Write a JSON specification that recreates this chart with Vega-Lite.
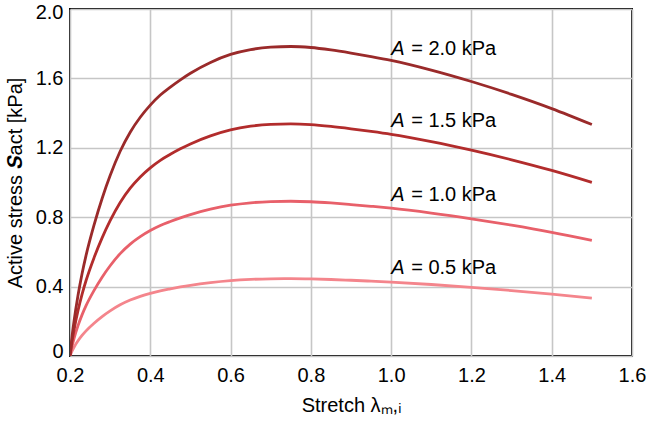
{
  "$schema": "https://vega.github.io/schema/vega-lite/v6.json",
  "width": 562,
  "height": 347,
  "autosize": {"type": "none"},
  "padding": {"left": 70, "top": 9, "right": 14, "bottom": 65},
  "background": "white",
  "config": {
    "view": {"stroke": "black", "strokeWidth": 2},
    "font": "Liberation Sans",
    "axis": {
      "gridColor": "#c6c6c6",
      "gridWidth": 1.6,
      "domain": false,
      "ticks": false,
      "labelFont": "Liberation Sans",
      "labelFontSize": 20,
      "labelColor": "black",
      "titleFont": "Liberation Sans",
      "titleFontSize": 20,
      "titleFontWeight": "normal",
      "titleColor": "black"
    }
  },
  "datasets": {
    "curves": [
      {"A":"0.5","l":0.2,"S":0},{"A":"0.5","l":0.205,"S":0.0275},{"A":"0.5","l":0.21,"S":0.05},{"A":"0.5","l":0.22,"S":0.0875},{"A":"0.5","l":0.23,"S":0.1185},{"A":"0.5","l":0.24,"S":0.145},{"A":"0.5","l":0.26,"S":0.189},{"A":"0.5","l":0.28,"S":0.227},{"A":"0.5","l":0.3,"S":0.26},{"A":"0.5","l":0.325,"S":0.295},{"A":"0.5","l":0.35,"S":0.3225},{"A":"0.5","l":0.375,"S":0.344},{"A":"0.5","l":0.4,"S":0.3615},{"A":"0.5","l":0.425,"S":0.376},{"A":"0.5","l":0.45,"S":0.3875},{"A":"0.5","l":0.475,"S":0.398},{"A":"0.5","l":0.5,"S":0.4075},{"A":"0.5","l":0.55,"S":0.423},{"A":"0.5","l":0.6,"S":0.4345},{"A":"0.5","l":0.65,"S":0.4415},{"A":"0.5","l":0.7,"S":0.445},{"A":"0.5","l":0.75,"S":0.446},{"A":"0.5","l":0.8,"S":0.4445},{"A":"0.5","l":0.85,"S":0.441},{"A":"0.5","l":0.9,"S":0.4365},{"A":"0.5","l":0.95,"S":0.4315},{"A":"0.5","l":1.0,"S":0.426},{"A":"0.5","l":1.1,"S":0.412},{"A":"0.5","l":1.2,"S":0.3955},{"A":"0.5","l":1.3,"S":0.377},{"A":"0.5","l":1.4,"S":0.3565},{"A":"0.5","l":1.5,"S":0.3335},
      {"A":"1.0","l":0.2,"S":0},{"A":"1.0","l":0.205,"S":0.055},{"A":"1.0","l":0.21,"S":0.1},{"A":"1.0","l":0.22,"S":0.175},{"A":"1.0","l":0.23,"S":0.237},{"A":"1.0","l":0.24,"S":0.29},{"A":"1.0","l":0.26,"S":0.378},{"A":"1.0","l":0.28,"S":0.454},{"A":"1.0","l":0.3,"S":0.52},{"A":"1.0","l":0.325,"S":0.59},{"A":"1.0","l":0.35,"S":0.645},{"A":"1.0","l":0.375,"S":0.688},{"A":"1.0","l":0.4,"S":0.723},{"A":"1.0","l":0.425,"S":0.752},{"A":"1.0","l":0.45,"S":0.775},{"A":"1.0","l":0.475,"S":0.796},{"A":"1.0","l":0.5,"S":0.815},{"A":"1.0","l":0.55,"S":0.846},{"A":"1.0","l":0.6,"S":0.869},{"A":"1.0","l":0.65,"S":0.883},{"A":"1.0","l":0.7,"S":0.89},{"A":"1.0","l":0.75,"S":0.892},{"A":"1.0","l":0.8,"S":0.889},{"A":"1.0","l":0.85,"S":0.882},{"A":"1.0","l":0.9,"S":0.873},{"A":"1.0","l":0.95,"S":0.863},{"A":"1.0","l":1.0,"S":0.852},{"A":"1.0","l":1.1,"S":0.824},{"A":"1.0","l":1.2,"S":0.791},{"A":"1.0","l":1.3,"S":0.754},{"A":"1.0","l":1.4,"S":0.713},{"A":"1.0","l":1.5,"S":0.667},
      {"A":"1.5","l":0.2,"S":0},{"A":"1.5","l":0.205,"S":0.0825},{"A":"1.5","l":0.21,"S":0.15},{"A":"1.5","l":0.22,"S":0.2625},{"A":"1.5","l":0.23,"S":0.3555},{"A":"1.5","l":0.24,"S":0.435},{"A":"1.5","l":0.26,"S":0.567},{"A":"1.5","l":0.28,"S":0.681},{"A":"1.5","l":0.3,"S":0.78},{"A":"1.5","l":0.325,"S":0.885},{"A":"1.5","l":0.35,"S":0.9675},{"A":"1.5","l":0.375,"S":1.032},{"A":"1.5","l":0.4,"S":1.0845},{"A":"1.5","l":0.425,"S":1.128},{"A":"1.5","l":0.45,"S":1.1625},{"A":"1.5","l":0.475,"S":1.194},{"A":"1.5","l":0.5,"S":1.2225},{"A":"1.5","l":0.55,"S":1.269},{"A":"1.5","l":0.6,"S":1.3035},{"A":"1.5","l":0.65,"S":1.3245},{"A":"1.5","l":0.7,"S":1.335},{"A":"1.5","l":0.75,"S":1.338},{"A":"1.5","l":0.8,"S":1.3335},{"A":"1.5","l":0.85,"S":1.323},{"A":"1.5","l":0.9,"S":1.3095},{"A":"1.5","l":0.95,"S":1.2945},{"A":"1.5","l":1.0,"S":1.278},{"A":"1.5","l":1.1,"S":1.236},{"A":"1.5","l":1.2,"S":1.1865},{"A":"1.5","l":1.3,"S":1.131},{"A":"1.5","l":1.4,"S":1.0695},{"A":"1.5","l":1.5,"S":1.0005},
      {"A":"2.0","l":0.2,"S":0},{"A":"2.0","l":0.205,"S":0.11},{"A":"2.0","l":0.21,"S":0.2},{"A":"2.0","l":0.22,"S":0.35},{"A":"2.0","l":0.23,"S":0.474},{"A":"2.0","l":0.24,"S":0.58},{"A":"2.0","l":0.26,"S":0.756},{"A":"2.0","l":0.28,"S":0.908},{"A":"2.0","l":0.3,"S":1.04},{"A":"2.0","l":0.325,"S":1.18},{"A":"2.0","l":0.35,"S":1.29},{"A":"2.0","l":0.375,"S":1.376},{"A":"2.0","l":0.4,"S":1.446},{"A":"2.0","l":0.425,"S":1.504},{"A":"2.0","l":0.45,"S":1.55},{"A":"2.0","l":0.475,"S":1.592},{"A":"2.0","l":0.5,"S":1.63},{"A":"2.0","l":0.55,"S":1.692},{"A":"2.0","l":0.6,"S":1.738},{"A":"2.0","l":0.65,"S":1.766},{"A":"2.0","l":0.7,"S":1.78},{"A":"2.0","l":0.75,"S":1.784},{"A":"2.0","l":0.8,"S":1.778},{"A":"2.0","l":0.85,"S":1.764},{"A":"2.0","l":0.9,"S":1.746},{"A":"2.0","l":0.95,"S":1.726},{"A":"2.0","l":1.0,"S":1.704},{"A":"2.0","l":1.1,"S":1.648},{"A":"2.0","l":1.2,"S":1.582},{"A":"2.0","l":1.3,"S":1.508},{"A":"2.0","l":1.4,"S":1.426},{"A":"2.0","l":1.5,"S":1.334}
    ],
    "labels": [
      {"A":"2.0","l":1.0,"S":1.735,"t":"= 2.0 kPa"},
      {"A":"1.5","l":1.0,"S":1.32,"t":"= 1.5 kPa"},
      {"A":"1.0","l":1.0,"S":0.895,"t":"= 1.0 kPa"},
      {"A":"0.5","l":1.0,"S":0.473,"t":"= 0.5 kPa"}
    ]
  },
  "layer": [
    {
      "data": {"name": "curves"},
      "mark": {"type": "line", "strokeWidth": 2.8, "interpolate": "monotone", "clip": true},
      "encoding": {
        "x": {
          "field": "l", "type": "quantitative",
          "scale": {"domain": [0.2, 1.6], "nice": false, "zero": false},
          "axis": {"values": [0.2, 0.4, 0.6, 0.8, 1.0, 1.2, 1.4, 1.6], "format": ".1f", "labelPadding": 9, "title": "Stretch λₘ,ᵢ", "titlePadding": 10, "labelFlush": false}
        },
        "y": {
          "field": "S", "type": "quantitative",
          "scale": {"domain": [0, 2.0], "nice": false},
          "axis": {
            "values": [0, 0.4, 0.8, 1.2, 1.6, 2.0],
            "labelExpr": "datum.value == 0 ? '0' : format(datum.value, '.1f')",
            "labelOffset": {"condition": [{"test": "datum.value >= 2", "value": 3}, {"test": "datum.value <= 0", "value": -5}], "value": 0},
            "labelPadding": 7, "title": "Active stress 𝑺act [kPa]", "titlePadding": 10, "labelFlush": false
          }
        },
        "color": {
          "field": "A", "type": "nominal",
          "scale": {"domain": ["0.5", "1.0", "1.5", "2.0"], "range": ["#f4858c", "#e8606a", "#b22c2c", "#9a2a2a"]},
          "legend": null
        },
        "detail": {"field": "A"}
      }
    },
    {
      "data": {"name": "labels"},
      "mark": {"type": "text", "align": "left", "baseline": "alphabetic", "fontSize": 20, "fontStyle": "italic", "font": "Liberation Sans"},
      "encoding": {
        "x": {"field": "l", "type": "quantitative"},
        "y": {"field": "S", "type": "quantitative"},
        "text": {"value": "A"},
        "color": {"value": "black"}
      }
    },
    {
      "data": {"name": "labels"},
      "mark": {"type": "text", "align": "left", "baseline": "alphabetic", "fontSize": 20, "dx": 20, "font": "Liberation Sans"},
      "encoding": {
        "x": {"field": "l", "type": "quantitative"},
        "y": {"field": "S", "type": "quantitative"},
        "text": {"field": "t"},
        "color": {"value": "black"}
      }
    }
  ]
}
